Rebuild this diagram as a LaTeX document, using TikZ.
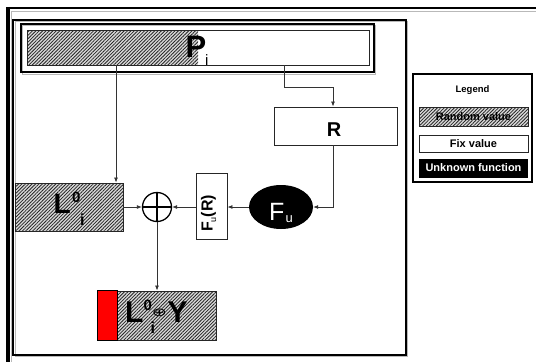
\documentclass[tikz,border=0pt]{standalone}
\usepackage{fontspec}
\setmainfont{Liberation Sans}
\newfontfamily\symfont{DejaVu Sans}
\usetikzlibrary{arrows.meta,patterns.meta,shapes.geometric}

\tikzset{
  hatchfill/.style={fill=gray!30,
    postaction={pattern={Lines[angle=45,distance=2.4pt,line width=0.8pt]}, pattern color=black!85}},
  hatchbox/.style={draw=black!85, line width=0.9pt, hatchfill, inner sep=0pt},
  fixbox/.style={draw=black!85, line width=0.9pt, fill=white, inner sep=0pt},
  txt/.style={inner sep=0pt, outer sep=0pt},
  arr/.style={draw=black!80, line width=0.8pt, -{Latex[length=5pt,width=4pt]}},
  link/.style={draw=black!80, line width=0.8pt},
  shadowline/.style={draw=gray!55, line width=1pt},
}

\begin{document}
\begin{tikzpicture}[x=1pt,y=-1pt]
\useasboundingbox (0,0) rectangle (536,362);

% page frame
\draw[line width=2.5pt] (7,8) -- (536,8);
\draw[line width=4pt] (8,6.75) -- (8,362);
\draw[shadowline, line width=0.8pt] (11,11.5) -- (536,11.5);
\draw[shadowline, line width=0.8pt] (11,11.5) -- (11,362);

% main frame
\draw[shadowline] (15,21.5) rectangle (407.5,356.5);
\draw[line width=2pt] (13,20) rectangle (406,355);

% plaintext block P_i
\draw[shadowline] (22.5,25.5) rectangle (375.5,74);
\node[draw, line width=2pt, minimum width=353pt, minimum height=48pt, inner sep=0pt] (pframe) at (197.5,48) {};
\fill[hatchfill] (27,30) rectangle (198,65);
\node[draw=black!85, line width=0.9pt, minimum width=342pt, minimum height=35pt, inner sep=0pt] (pbar) at (198,47.5) {};
\node[txt, anchor=base west, font=\bfseries\fontsize{31}{31}\selectfont] (ptext) at (185.5,57) {P};
\node[txt, anchor=base west, font=\fontsize{15}{15}\selectfont] (pidx) at (205,65.5) {i};

% right half R
\node[fixbox, minimum width=123pt, minimum height=38pt] (rbox) at (335.5,126) {};
\node[txt, anchor=base, font=\bfseries\fontsize{20}{20}\selectfont] (rtext) at (334,136) {R};

% left half L_i^0
\node[hatchbox, minimum width=108pt, minimum height=48pt] (lbox) at (69,207) {};
\node[txt, anchor=base west, font=\bfseries\fontsize{28}{28}\selectfont] (ltext) at (53.5,213) {L};
\node[txt, anchor=base west, font=\bfseries\fontsize{15}{15}\selectfont] (lsup) at (72,202) {0};
\node[txt, anchor=base west, font=\bfseries\fontsize{16}{16}\selectfont] (lsub) at (80,225) {i};

% xor
\node[circle, draw, line width=1.3pt, minimum size=29pt, inner sep=0pt] (xor) at (157,207) {};
\draw[line width=1.3pt] (xor.north) -- (xor.south) (xor.west) -- (xor.east);

% F_u(R)
\node[fixbox, minimum width=31pt, minimum height=66pt] (furbox) at (211.5,206) {};
\node[txt, rotate=90] (furtext) at (208.5,213.5)
  {{\bfseries\fontsize{16}{16}\selectfont F}\raisebox{-3.5pt}{\fontsize{9}{9}\selectfont u}{\bfseries\fontsize{16}{16}\selectfont (R)}};

% unknown function F_u
\node[ellipse, fill=black, minimum width=64pt, minimum height=44pt, inner sep=0pt] (fu) at (281,207) {};
\node[txt, anchor=base west, text=white, font=\fontsize{25}{25}\selectfont] (futext) at (269,220) {F};
\node[txt, anchor=base west, text=white, font=\fontsize{13}{13}\selectfont] (fusub) at (285.5,222) {u};

% result L_i^0 xor Y
\node[hatchbox, minimum width=118pt, minimum height=49pt] (res) at (157,315.5) {};
\filldraw[fill=red, draw=black, line width=0.9pt] (res.north west) rectangle ([xshift=20pt]res.south west);
\node[txt, anchor=base west, font=\bfseries\fontsize{30}{30}\selectfont] (resl) at (125,322) {L};
\node[txt, anchor=base west, font=\bfseries\fontsize{15}{15}\selectfont] (ressup) at (143.5,310) {0};
\node[txt, anchor=base west, font=\bfseries\fontsize{16}{16}\selectfont] (ressub) at (150.5,333) {i};
\node[txt] (resxor) at (159.5,312.5) {\scalebox{1}[0.65]{\symfont\fontsize{18}{18}\selectfont ⊕}};
\node[txt, anchor=base west, font=\bfseries\fontsize{30}{30}\selectfont] (resy) at (167.5,322) {Y};

% connectors
\coordinate (tapl) at (116,65);
\coordinate (tapr) at (284,65);
\coordinate (bendr) at (284,87);
\draw[arr] (tapl) -- (tapl |- lbox.north);
\draw[link] (tapr) -- (bendr);
\draw[arr] (bendr) -| ([xshift=-2.5pt]rbox.north);
\draw[arr] ([xshift=-2.5pt]rbox.south) |- (fu.east);
\draw[arr] (fu.west) -- (furbox.east |- fu.west);
\draw[arr] (furbox.west |- xor.east) -- (xor.east);
\draw[arr] (lbox.east) -- (xor.west);
\draw[arr] (xor.south) -- (res.north);

% legend
\node[draw, line width=1.5pt, minimum width=119pt, minimum height=108pt, inner sep=0pt] (legend) at (472.5,128) {};
\node[txt, font=\bfseries\fontsize{9.5}{10}\selectfont] (legtitle) at (472.5,90) {Legend};
\node[hatchbox, minimum width=109pt, minimum height=19pt, font=\bfseries\fontsize{11}{11}\selectfont] (legrand) at (473.5,117) {Random value};
\node[fixbox, minimum width=109pt, minimum height=17pt, font=\bfseries\fontsize{11}{11}\selectfont] (legfix) at (473.5,143.5) {Fix value};
\node[fill=black, text=white, minimum width=109pt, minimum height=19pt, inner sep=0pt, font=\bfseries\fontsize{11}{11}\selectfont] (legunk) at (473.5,168) {Unknown function};
\end{tikzpicture}
\end{document}
